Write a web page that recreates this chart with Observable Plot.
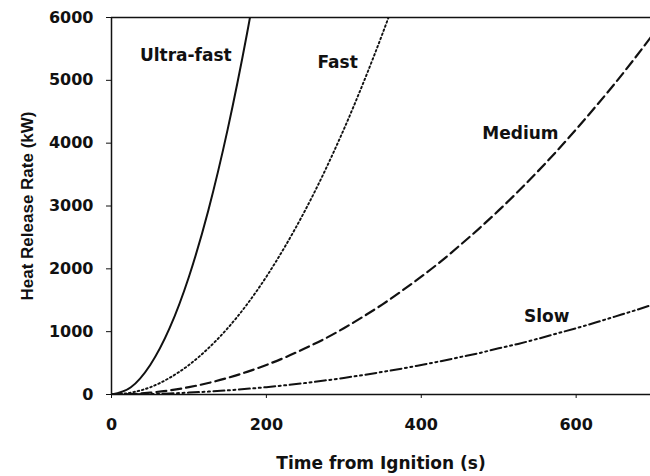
<!DOCTYPE html>
<html>
<head>
<meta charset="utf-8">
<script src="https://cdn.jsdelivr.net/npm/d3@7"></script>
<script src="https://cdn.jsdelivr.net/npm/@observablehq/plot@0.6"></script>
<style>
  html, body { margin: 0; padding: 0; background: #fff; }
</style>
</head>
<body>
<div id="chart"></div>
<script>
// Time from ignition (s)
const time = [0,25,50,75,100,125,150,175,200,225,250,275,300,325,350,375,400,425,450,475,500,525,550,575,600,625,650,675,700];
// Heat release rate (kW)
const ultraFast = [0,115,470,1055,1875,2930,4220,5745,7500];
const fast = [0,30,115,265,470,735,1055,1435,1875,2375,2930,3545,4220,4955,5745,6595];
const medium = [0,7,30,66,117,183,264,360,470,595,735,885,1055,1240,1435,1650,1875,2115,2375,2645,2930,3230,3545,3875,4220,4580,4950,5340,5745];
const slow = [0,2,7,16,30,46,66,90,117,148,183,222,264,310,360,412,470,530,595,660,735,805,885,970,1055,1145,1240,1335,1435];

const seriesNames = ["Ultra-fast","Fast","Medium","Slow"];
const seriesValues = [ultraFast, fast, medium, slow];

// label annotations: [name, time, hrr]
const labelNames = ["Ultra-fast","Fast","Medium","Slow"];
const labelTime = [96, 292, 528, 562];
const labelHrr = [5400, 5290, 4160, 1245];

const yTicks = [0,1000,2000,3000,4000,5000,6000];
const xTicks = [0,200,400,600];

const styles = {
  "Ultra-fast": {dash: null, width: 2},
  "Fast": {dash: "1.6,2.8", width: 1.9},
  "Medium": {dash: "10,5", width: 2.2},
  "Slow": {dash: "11,3.5,2,3.5,2,3.5", width: 2}
};

const rows = [];
seriesNames.forEach((name, i) => {
  seriesValues[i].forEach((v, j) => rows.push({series: name, t: time[j], hrr: v}));
});
const labels = labelNames.map((n, i) => ({name: n, t: labelTime[i], hrr: labelHrr[i]}));

const lineMarks = seriesNames.map(name => Plot.line(rows.filter(d => d.series === name), {
  x: "t", y: "hrr", stroke: "#111", strokeWidth: styles[name].width,
  strokeDasharray: styles[name].dash, curve: "monotone-x", clip: true
}));

const wide = "'DejaVu Sans', Verdana, sans-serif";

const chart = Plot.plot({
  width: 650,
  height: 476,
  marginTop: 17,
  marginLeft: 111,
  marginRight: 0,
  marginBottom: 82,
  style: {fontFamily: wide, fontWeight: "bold", fontSize: "16px", color: "#111", background: "#fff"},
  x: {domain: [0, 696]},
  y: {domain: [0, 6000]},
  marks: [
    Plot.axisY({ticks: yTicks, tickSize: 5, tickPadding: 13, tickFormat: d => String(d), label: null, fontSize: 16, fontWeight: "bold"}),
    Plot.axisY({ticks: [], tickSize: 0, label: "Heat Release Rate (kW)", labelAnchor: "center", labelOffset: 91, labelArrow: "none", fontSize: 17, fontWeight: "bold", fontFamily: "'Liberation Sans', Arial, sans-serif"}),
    Plot.axisX({ticks: xTicks, tickSize: 4, tickPadding: 20, tickFormat: d => String(d), label: null, fontSize: 16, fontWeight: "bold"}),
    Plot.axisX({ticks: [], tickSize: 0, label: "Time from Ignition (s)", labelAnchor: "center", labelOffset: 74, labelArrow: "none", fontSize: 17, fontWeight: "bold"}),
    Plot.ruleY([6000], {stroke: "#111", strokeWidth: 1.5}),
    Plot.ruleY([0], {stroke: "#111", strokeWidth: 1.5}),
    Plot.ruleX([0], {stroke: "#111", strokeWidth: 1.5}),
    ...lineMarks,
    Plot.text(labels, {x: "t", y: "hrr", text: "name", fontSize: 17, fontWeight: "bold", fill: "#111", textAnchor: "middle", fontFamily: wide})
  ]
});
document.getElementById("chart").appendChild(chart);
</script>
</body>
</html>
